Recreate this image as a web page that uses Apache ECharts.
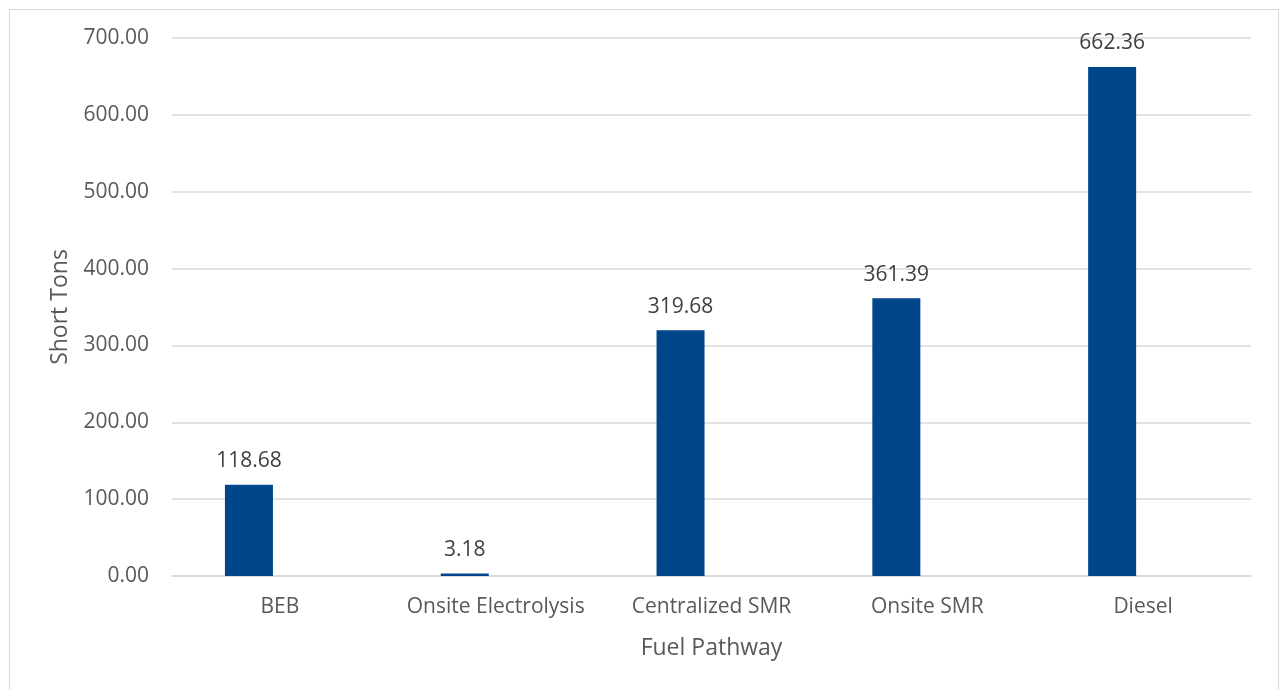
<!DOCTYPE html>
<html><head><meta charset="utf-8">
<script src="https://cdn.jsdelivr.net/npm/echarts@6/dist/echarts.min.js"></script>
<style>html,body{margin:0;padding:0;background:#fff}#c{width:1280px;height:690px}</style>
</head><body><div id="c"></div>
<script>
const categories = ["BEB", "Onsite Electrolysis", "Centralized SMR", "Onsite SMR", "Diesel"];
const values = [118.68, 3.18, 319.68, 361.39, 662.36];
const emptySeries = [null, null, null, null, null];
const yTicks = {min: 0, max: 700, interval: 100};
const xTitle = "Fuel Pathway";
const yTitle = "Short Tons";

const font = "'Open Sans', sans-serif";
const chart = echarts.init(document.getElementById('c'), null, {renderer: 'canvas'});
chart.setOption({
  animation: false,
  backgroundColor: '#fff',
  graphic: [{type: 'rect', shape: {x: 9.5, y: 9.5, width: 1269, height: 700}, style: {fill: 'none', stroke: '#d9d9d9', lineWidth: 1}}],
  grid: {left: 172, right: 29, top: 38, bottom: 114, containLabel: false},
  xAxis: {
    type: 'category', data: categories,
    name: xTitle, nameLocation: 'middle', nameGap: 61,
    nameTextStyle: {fontFamily: font, fontSize: 23, color: '#595959'},
    axisLine: {show: true, lineStyle: {color: '#d9d9d9', width: 1.5}},
    axisTick: {show: false},
    axisLabel: {interval: 0, hideOverlap: false, fontFamily: font, fontSize: 21, color: '#595959', margin: 21}
  },
  yAxis: {
    type: 'value', min: yTicks.min, max: yTicks.max, interval: yTicks.interval,
    name: yTitle, nameLocation: 'middle', nameGap: 100, nameRotate: 90,
    nameTextStyle: {fontFamily: font, fontSize: 23, color: '#595959'},
    axisLine: {show: false}, axisTick: {show: false},
    splitLine: {lineStyle: {color: '#d9d9d9', width: 1.5}},
    axisLabel: {fontFamily: font, fontSize: 21, color: '#595959', margin: 23,
      formatter: v => v.toFixed(2)}
  },
  series: [{
    type: 'bar', data: values, barWidth: 48, barGap: '29%',
    itemStyle: {color: '#00468b'},
    label: {show: true, position: 'top', distance: 13, fontFamily: font, fontSize: 21, color: '#404040',
      formatter: p => p.value.toFixed(2)}
  }, {
    type: 'bar', data: emptySeries, barWidth: 48, silent: true
  }]
});
</script></body></html>
